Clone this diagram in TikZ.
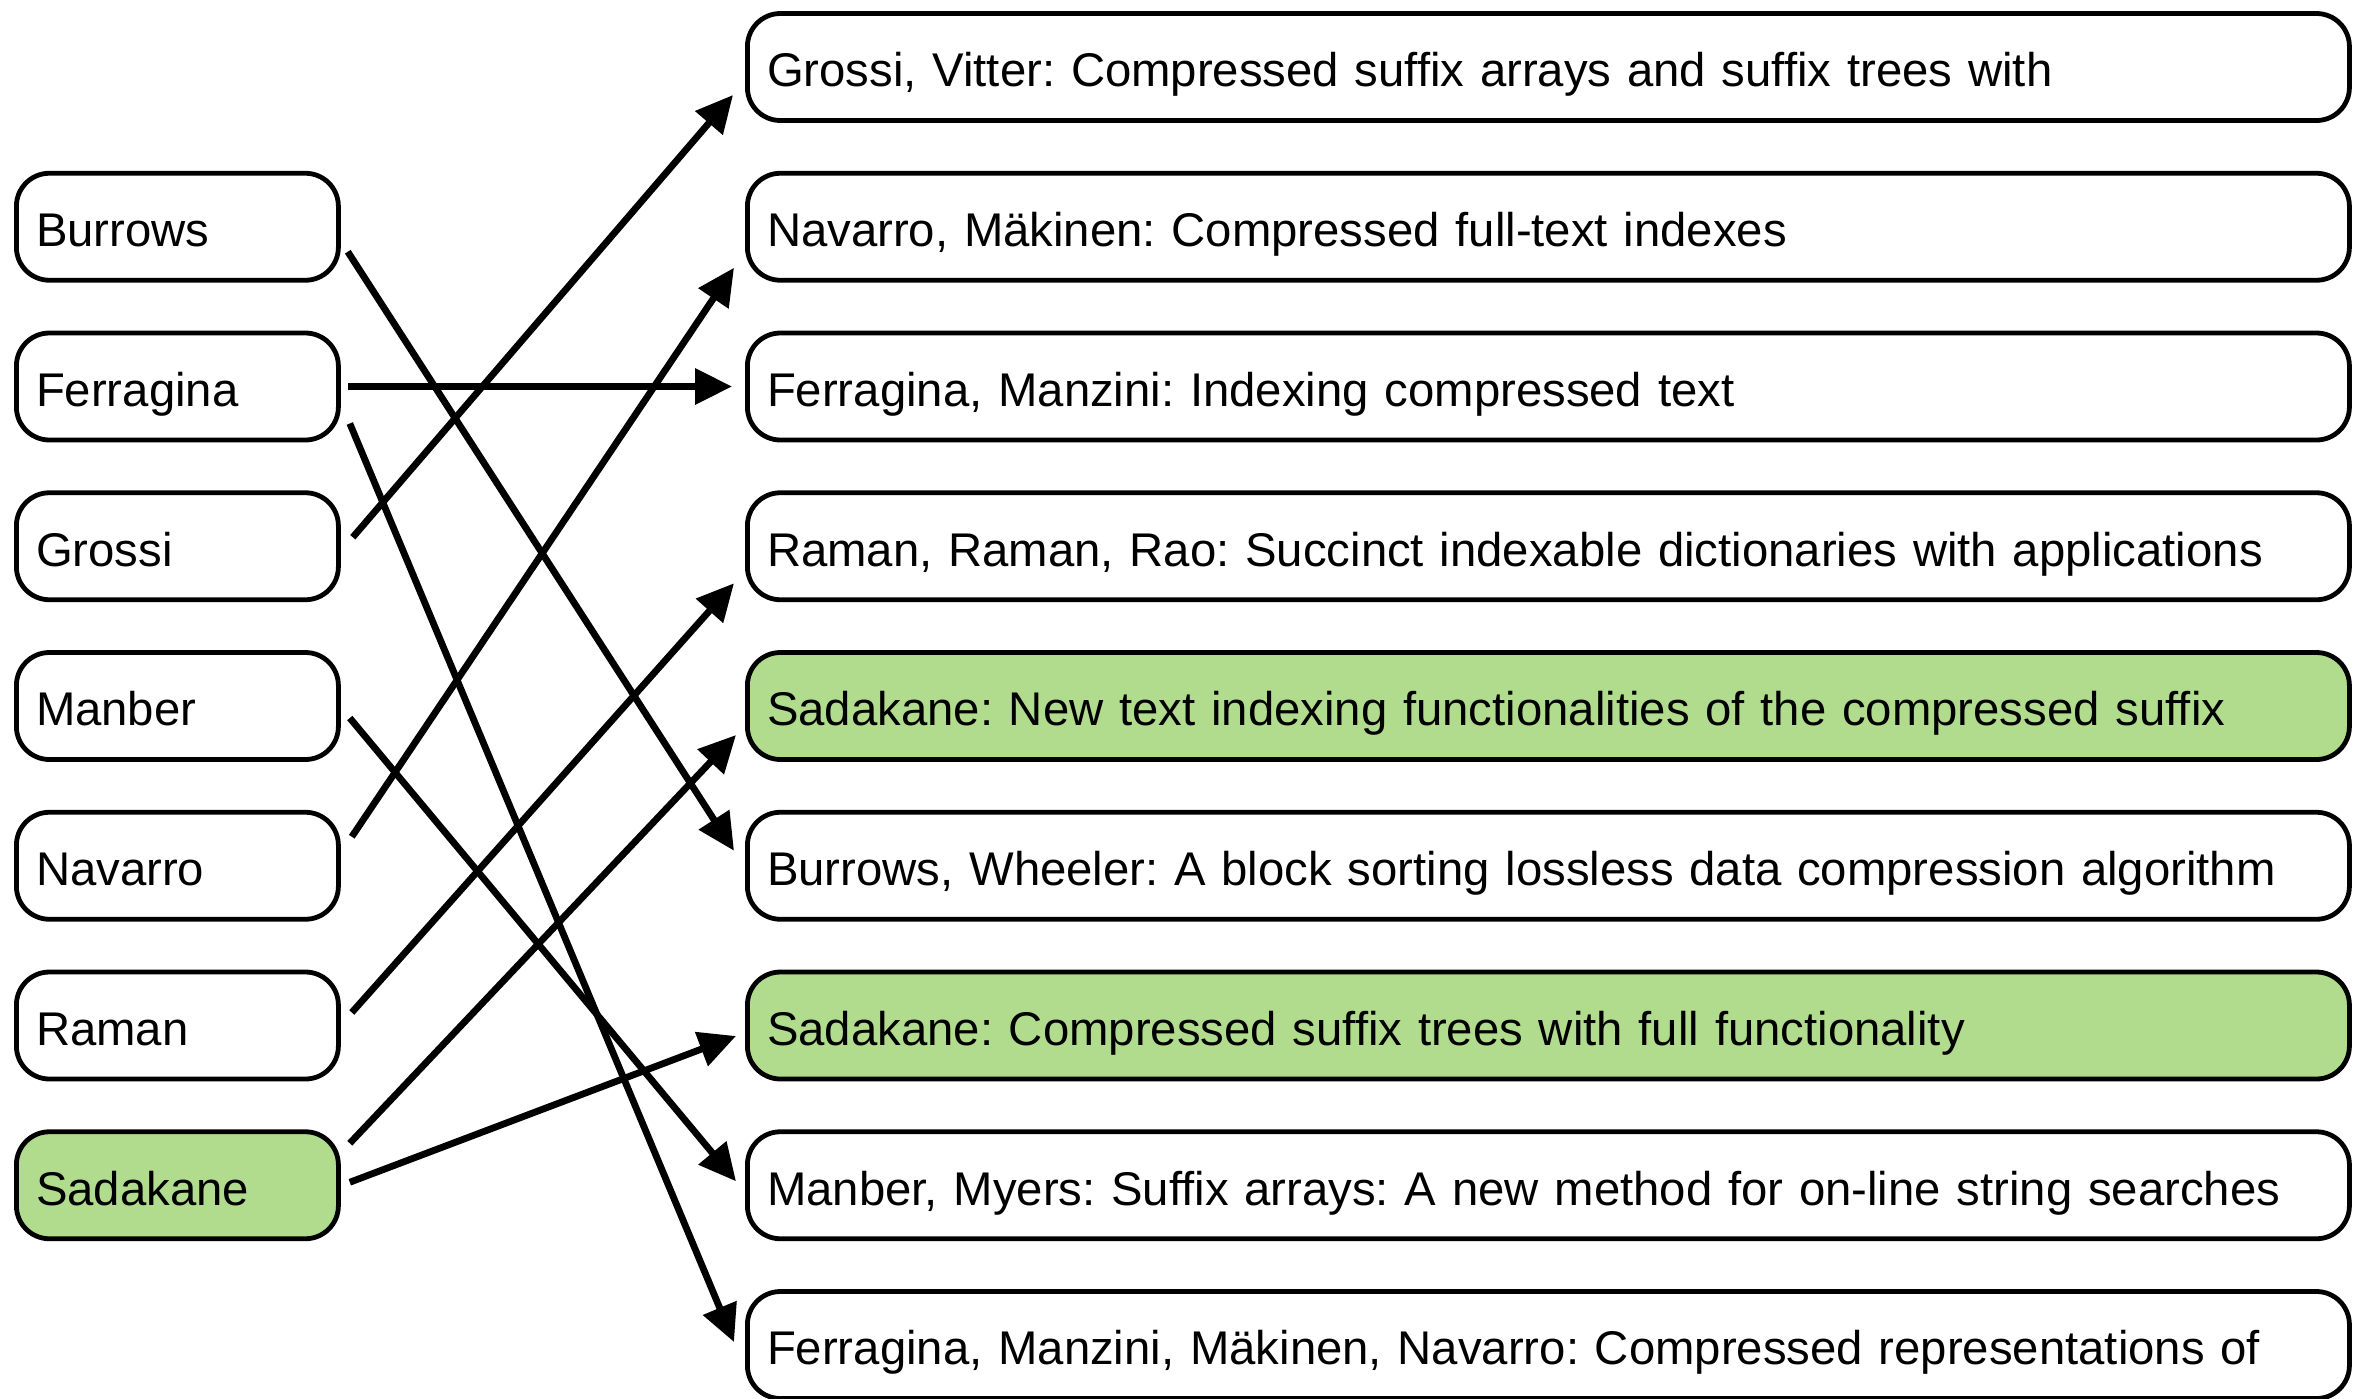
\documentclass[tikz,border=0pt]{standalone}
\usepackage{fontspec}
\setmainfont{Liberation Sans}
\usetikzlibrary{arrows.meta,calc}
\definecolor{hlgreen}{RGB}{177,219,141}
\frenchspacing
\begin{document}
\begin{tikzpicture}[x=0.5pt,y=-0.5pt,
  box/.style={draw=black, line width=2.4pt, rounded corners=16.5pt, minimum height=53.5pt,
    anchor=west, inner xsep=9.8pt, inner ysep=0pt, align=left, fill=white,
    text height=22pt, text depth=2.2pt,
    font=\fontsize{23.65}{28}\selectfont},
  lbox/.style={box, text width=141.4pt, minimum width=161pt},
  rbox/.style={box, text width=781.4pt, minimum width=801pt},
  hl/.style={fill=hlgreen},
  link/.style={line width=3.4pt, -{Triangle[length=18.5pt,width=17.5pt]}}
]
\useasboundingbox (0,0) rectangle (2355,1398);

% left column
\node[lbox]    (burrows)   at (14,226.75)  {Burrows};
\node[lbox]    (ferragina) at (14,386.5)   {Ferragina};
\node[lbox]    (grossi)    at (14,546.25)  {Grossi};
\node[lbox]    (manber)    at (14,706)     {Manber};
\node[lbox]    (navarro)   at (14,865.75)  {Navarro};
\node[lbox]    (raman)     at (14,1025.5)  {Raman};
\node[lbox,hl] (sadakane)  at (14,1185.25) {Sadakane};

% right column
\node[rbox]    (gv)   at (745,67)      {Grossi, Vitter: Compressed suffix arrays and suffix trees with};
\node[rbox]    (nm)   at (745,226.75)  {Navarro, Mäkinen: Compressed full-text indexes};
\node[rbox]    (fm)   at (745,386.5)   {Ferragina, Manzini: Indexing compressed text};
\node[rbox]    (rrr)  at (745,546.25)  {Raman, Raman, Rao: Succinct indexable dictionaries with applications};
\node[rbox,hl] (sn)   at (745,706)     {Sadakane: New text indexing functionalities of the compressed suffix};
\node[rbox]    (bw)   at (745,865.75)  {Burrows, Wheeler: A block sorting lossless data compression algorithm};
\node[rbox,hl] (sc)   at (745,1025.5)  {Sadakane: Compressed suffix trees with full functionality};
\node[rbox]    (mm)   at (745,1185.25) {Manber, Myers: Suffix arrays: A new method for on-line string searches};
\node[rbox]    (fmmn) at (745,1345)    {Ferragina, Manzini, Mäkinen, Navarro: Compressed representations of};

% connectors
\draw[link] ($(burrows.east)+(7,25)$)    -- ($(bw.west)+(-11,-15)$);
\draw[link] ($(ferragina.east)+(7,0)$)   -- ($(fm.west)+(-13,0)$);
\draw[link] ($(ferragina.east)+(9,37)$)  -- ($(fmmn.west)+(-11,-3)$);
\draw[link] ($(grossi.east)+(12,-9)$)    -- ($(gv.west)+(-12,28)$);
\draw[link] ($(manber.east)+(9,12)$)     -- ($(mm.west)+(-9,-4)$);
\draw[link] ($(navarro.east)+(11,-29)$)  -- ($(nm.west)+(-11,41)$);
\draw[link] ($(raman.east)+(11,-13)$)    -- ($(rrr.west)+(-11,37)$);
\draw[link] ($(sadakane.east)+(9,-42)$)  -- ($(sn.west)+(-9,29)$);
\draw[link] ($(sadakane.east)+(9,-3)$)   -- ($(sc.west)+(-9,10.5)$);
\end{tikzpicture}
\end{document}
